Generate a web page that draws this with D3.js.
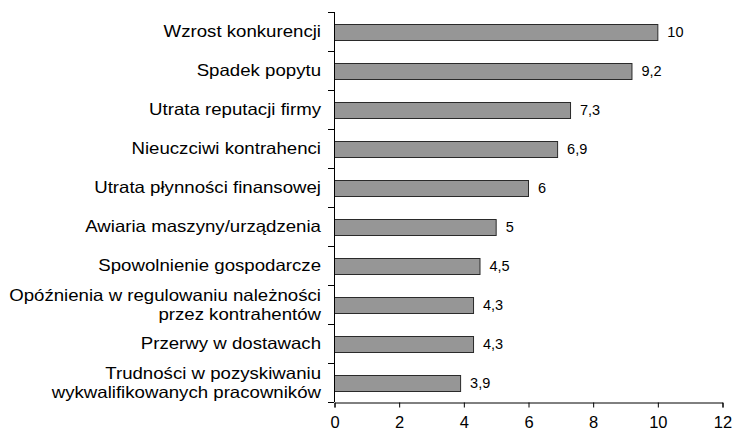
<!DOCTYPE html>
<html>
<head>
    <script src="https://d3js.org/d3.v7.min.js"></script>
    <style>
        body { margin: 0; background: #fff; }
        text { font-family: "Liberation Sans", Arial, sans-serif; fill: #000; }
    </style>
</head>
<body>
    <svg width="734" height="437"></svg>

    <script>
        // Categories top to bottom (multi-line labels split by "|")
        const categories = [
            "Wzrost konkurencji",
            "Spadek popytu",
            "Utrata reputacji firmy",
            "Nieuczciwi kontrahenci",
            "Utrata płynności finansowej",
            "Awiaria maszyny/urządzenia",
            "Spowolnienie gospodarcze",
            "Opóźnienia w regulowaniu należności|przez kontrahentów",
            "Przerwy w dostawach",
            "Trudności w pozyskiwaniu|wykwalifikowanych pracowników"
        ];
        const values = [10, 9.2, 7.3, 6.9, 6, 5, 4.5, 4.3, 4.3, 3.9];
        const xTicks = [0, 2, 4, 6, 8, 10, 12];

        const svg = d3.select("svg");
        const plotL = 334, plotR = 722, plotT = 12, plotB = 402;

        const x = d3.scaleLinear().domain([0, 12]).range([plotL, plotR]);
        const y = d3.scaleBand()
            .domain(categories)
            .range([plotT, plotB])
            .paddingInner(0.59)
            .paddingOuter(0.295);

        const fmt = v => String(v).replace(".", ",");

        // bars
        svg.selectAll("rect.bar")
            .data(categories)
            .enter()
            .append("rect")
            .attr("class", "bar")
            .attr("x", x(0) + 0.5)
            .attr("y", d => Math.round(y(d)) + 0.5)
            .attr("width", (d, i) => x(values[i]) - x(0))
            .attr("height", Math.round(y.bandwidth()))
            .attr("fill", "#969696")
            .attr("stroke", "#2a2a2a")
            .attr("stroke-width", 1);

        // value labels
        svg.selectAll("text.val")
            .data(categories)
            .enter()
            .append("text")
            .attr("class", "val")
            .attr("x", (d, i) => x(values[i]) + 10)
            .attr("y", d => y(d) + y.bandwidth() / 2 + 5.5)
            .attr("font-size", "14.5px")
            .text((d, i) => fmt(values[i]));

        // y axis line and ticks at band edges
        const step = (plotB - plotT) / categories.length;
        const edges = d3.range(categories.length + 1).map(i => plotT + i * step);
        svg.append("line")
            .attr("x1", plotL + 0.5).attr("x2", plotL + 0.5)
            .attr("y1", plotT).attr("y2", plotB)
            .attr("stroke", "#000");
        svg.selectAll("line.ytick")
            .data(edges)
            .enter()
            .append("line")
            .attr("class", "ytick")
            .attr("x1", plotL - 6).attr("x2", plotL)
            .attr("y1", d => Math.round(d) + 0.5).attr("y2", d => Math.round(d) + 0.5)
            .attr("stroke", "#000");

        // category labels (slightly stretched like the original)
        const labels = svg.selectAll("g.cat")
            .data(categories)
            .enter()
            .append("g")
            .attr("class", "cat")
            .attr("transform", `translate(${plotL - 13},0) scale(1.13,1)`)
            .append("text")
            .attr("text-anchor", "end")
            .attr("font-size", "16.5px");
        labels.each(function(d) {
            const lines = d.split("|");
            const cy = y(d) + y.bandwidth() / 2;
            const lh = 19;
            const y0 = cy - (lines.length - 1) * lh / 2 + 6;
            d3.select(this).selectAll("tspan")
                .data(lines)
                .enter()
                .append("tspan")
                .attr("x", 0)
                .attr("y", (l, i) => y0 + i * lh)
                .text(l => l);
        });

        // x axis
        const xAxis = d3.axisBottom(x)
            .tickValues(xTicks)
            .tickSize(5)
            .tickPadding(9)
            .tickFormat(d => d);
        const gx = svg.append("g")
            .attr("transform", `translate(0.5,${plotB + 0.5})`)
            .call(xAxis);
        gx.select(".domain").attr("stroke", "#000");
        gx.selectAll(".tick line").attr("stroke", "#000");
        gx.selectAll(".tick text")
            .attr("font-size", "16.5px")
            .attr("font-family", "Liberation Sans, Arial, sans-serif")
            .attr("fill", "#000");
    </script>
</body>
</html>
